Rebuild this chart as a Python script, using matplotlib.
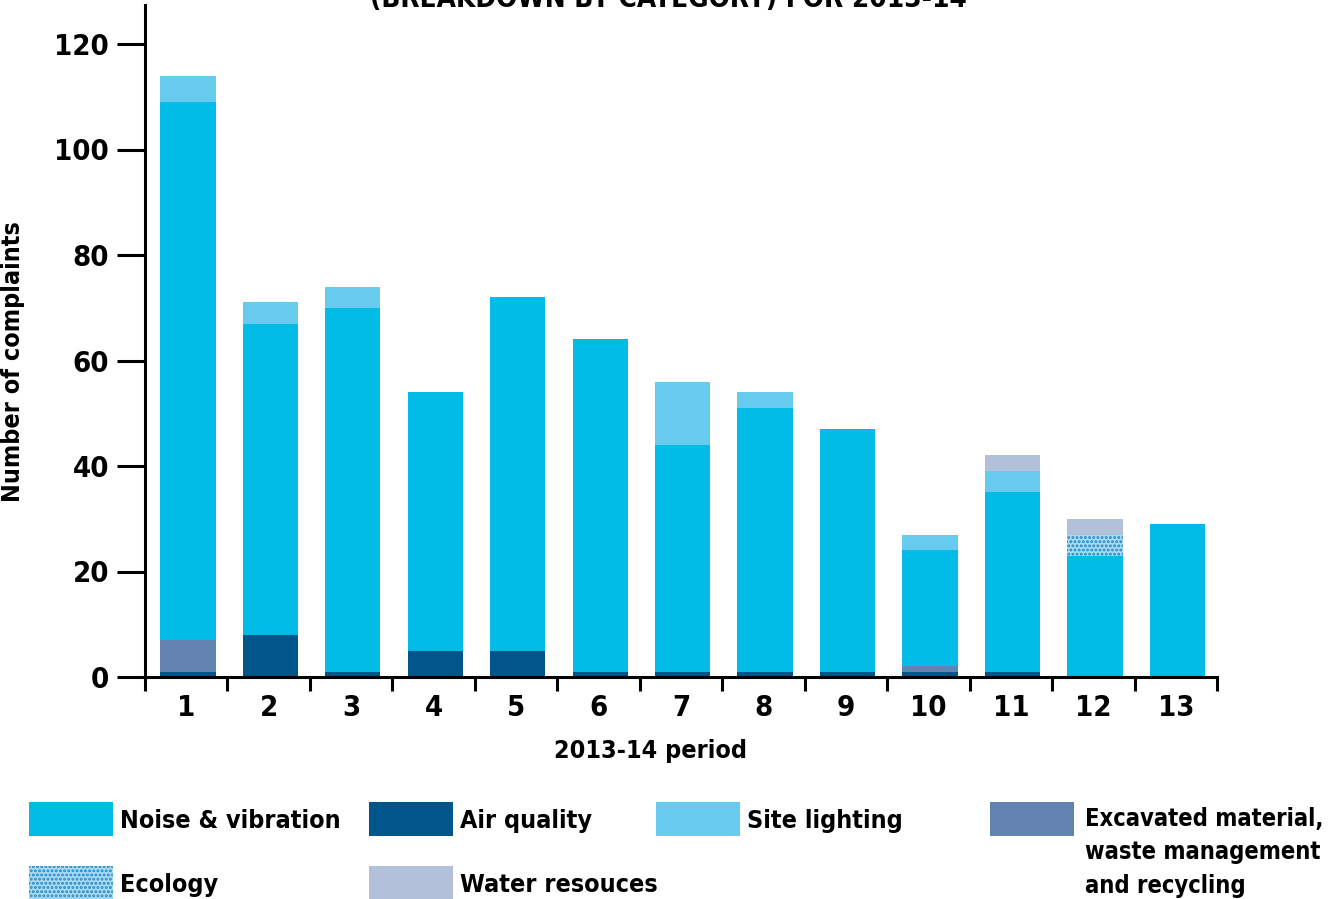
import matplotlib
matplotlib.use("Agg")
import matplotlib.pyplot as plt
from matplotlib.patches import Rectangle
from matplotlib.ticker import FixedLocator, NullFormatter
import numpy as np

# Complaints per 2013-14 period, by category
periods = [str(i) for i in range(1, 14)]
air_quality = [1, 8, 1, 5, 5, 1, 1, 1, 1, 1, 1, 0, 0]
excavated = [6, 0, 0, 0, 0, 0, 0, 0, 0, 1, 0, 0, 0]
noise = [102, 59, 69, 49, 67, 63, 43, 50, 46, 22, 34, 23, 29]
ecology = [0, 0, 0, 0, 0, 0, 0, 0, 0, 0, 0, 4, 0]
site_lighting = [5, 4, 4, 0, 0, 0, 12, 3, 0, 3, 4, 0, 0]
water = [0, 0, 0, 0, 0, 0, 0, 0, 0, 0, 3, 3, 0]

y_ticks = [0, 20, 40, 60, 80, 100, 120]

C_NOISE = "#00bce6"
C_AIR = "#00558b"
C_LIGHT = "#66cbed"
C_EXC = "#6283b0"
C_ECO_FACE = "#a9dcf2"
C_ECO_DOT = "#1f86c8"
C_WATER = "#b3c0da"

TXT = dict(family="DejaVu Sans", fontstretch="condensed", fontweight="bold")
plt.rcParams["hatch.linewidth"] = 1.4

fig = plt.figure(figsize=(13.34, 8.99), dpi=100)
ax = fig.add_axes([145 / 1334, 1 - 677 / 899, (1217 - 145) / 1334, (677 - 5) / 899])

x = np.arange(1, 14)
width = 0.67
series = [
    (air_quality, dict(color=C_AIR)),
    (excavated, dict(color=C_EXC)),
    (noise, dict(color=C_NOISE)),
    (ecology, dict(facecolor=C_ECO_FACE, edgecolor=C_ECO_DOT, hatch="....", linewidth=0)),
    (site_lighting, dict(color=C_LIGHT)),
    (water, dict(color=C_WATER)),
]
bottom = np.zeros(len(x))
for vals, style in series:
    vals = np.array(vals, dtype=float)
    ax.bar(x + 0.02, vals, width, bottom=bottom, zorder=2, **style)
    bottom += vals

ax.set_xlim(0.5, 13.5)
ax.set_ylim(0, (677 - 5) / 5.275)

for s in ["top", "right"]:
    ax.spines[s].set_visible(False)
for s in ["left", "bottom"]:
    ax.spines[s].set_linewidth(2.2)
    ax.spines[s].set_zorder(3)

ax.set_yticks(y_ticks)
ax.set_yticklabels([str(v) for v in y_ticks], fontsize=21, **TXT)
ax.tick_params(axis="y", length=20, width=2.2, pad=6)

ax.set_xticks(x)
ax.set_xticklabels(periods, fontsize=21, **TXT)
ax.tick_params(axis="x", which="major", length=0, pad=12)
ax.xaxis.set_minor_locator(FixedLocator(np.arange(0.5, 14, 1)))
ax.xaxis.set_minor_formatter(NullFormatter())
ax.tick_params(axis="x", which="minor", length=10, width=2.2)

ax.set_xlabel("2013-14 period", fontsize=18, **TXT)
ax.xaxis.set_label_coords((650 - 145) / 1072, -62 / 672)
ax.set_ylabel("Number of complaints", fontsize=18, **TXT)
ax.yaxis.set_label_coords(-120 / 1072, 0.47)

# Title, partly above the canvas
fig.text(668 / 1334, 1 - 7 / 899, "(BREAKDOWN BY CATEGORY) FOR 2013-14",
         fontsize=20, ha="center", va="baseline", **TXT)

# Legend
def fx(px):
    return px / 1334

def fy(py):
    return 1 - py / 899

legend_items = [
    ("Noise & vibration", dict(facecolor=C_NOISE), 29, 802),
    ("Air quality", dict(facecolor=C_AIR), 369, 802),
    ("Site lighting", dict(facecolor=C_LIGHT), 656, 802),
    ("Excavated material,\nwaste management\nand recycling", dict(facecolor=C_EXC), 990, 802),
    ("Ecology", dict(facecolor=C_ECO_FACE, edgecolor=C_ECO_DOT, hatch="....", linewidth=0), 29, 866),
    ("Water resouces", dict(facecolor=C_WATER), 369, 866),
]
for label, style, px, py in legend_items:
    st = dict(linewidth=0)
    st.update(style)
    fig.patches.append(Rectangle((fx(px), fy(py + 34)), 84 / 1334, 34 / 899,
                                 transform=fig.transFigure, figure=fig, **st))
    if "\n" in label:
        # first line centred on the swatch, further lines below
        fig.text(fx(px + 95), fy(py + 5), label, fontsize=17, ha="left", va="top",
                 linespacing=1.5, **TXT)
    else:
        fig.text(fx(px + 91), fy(py + 19), label, fontsize=18, ha="left",
                 va="center", **TXT)

fig.savefig("out.png", dpi=100)
